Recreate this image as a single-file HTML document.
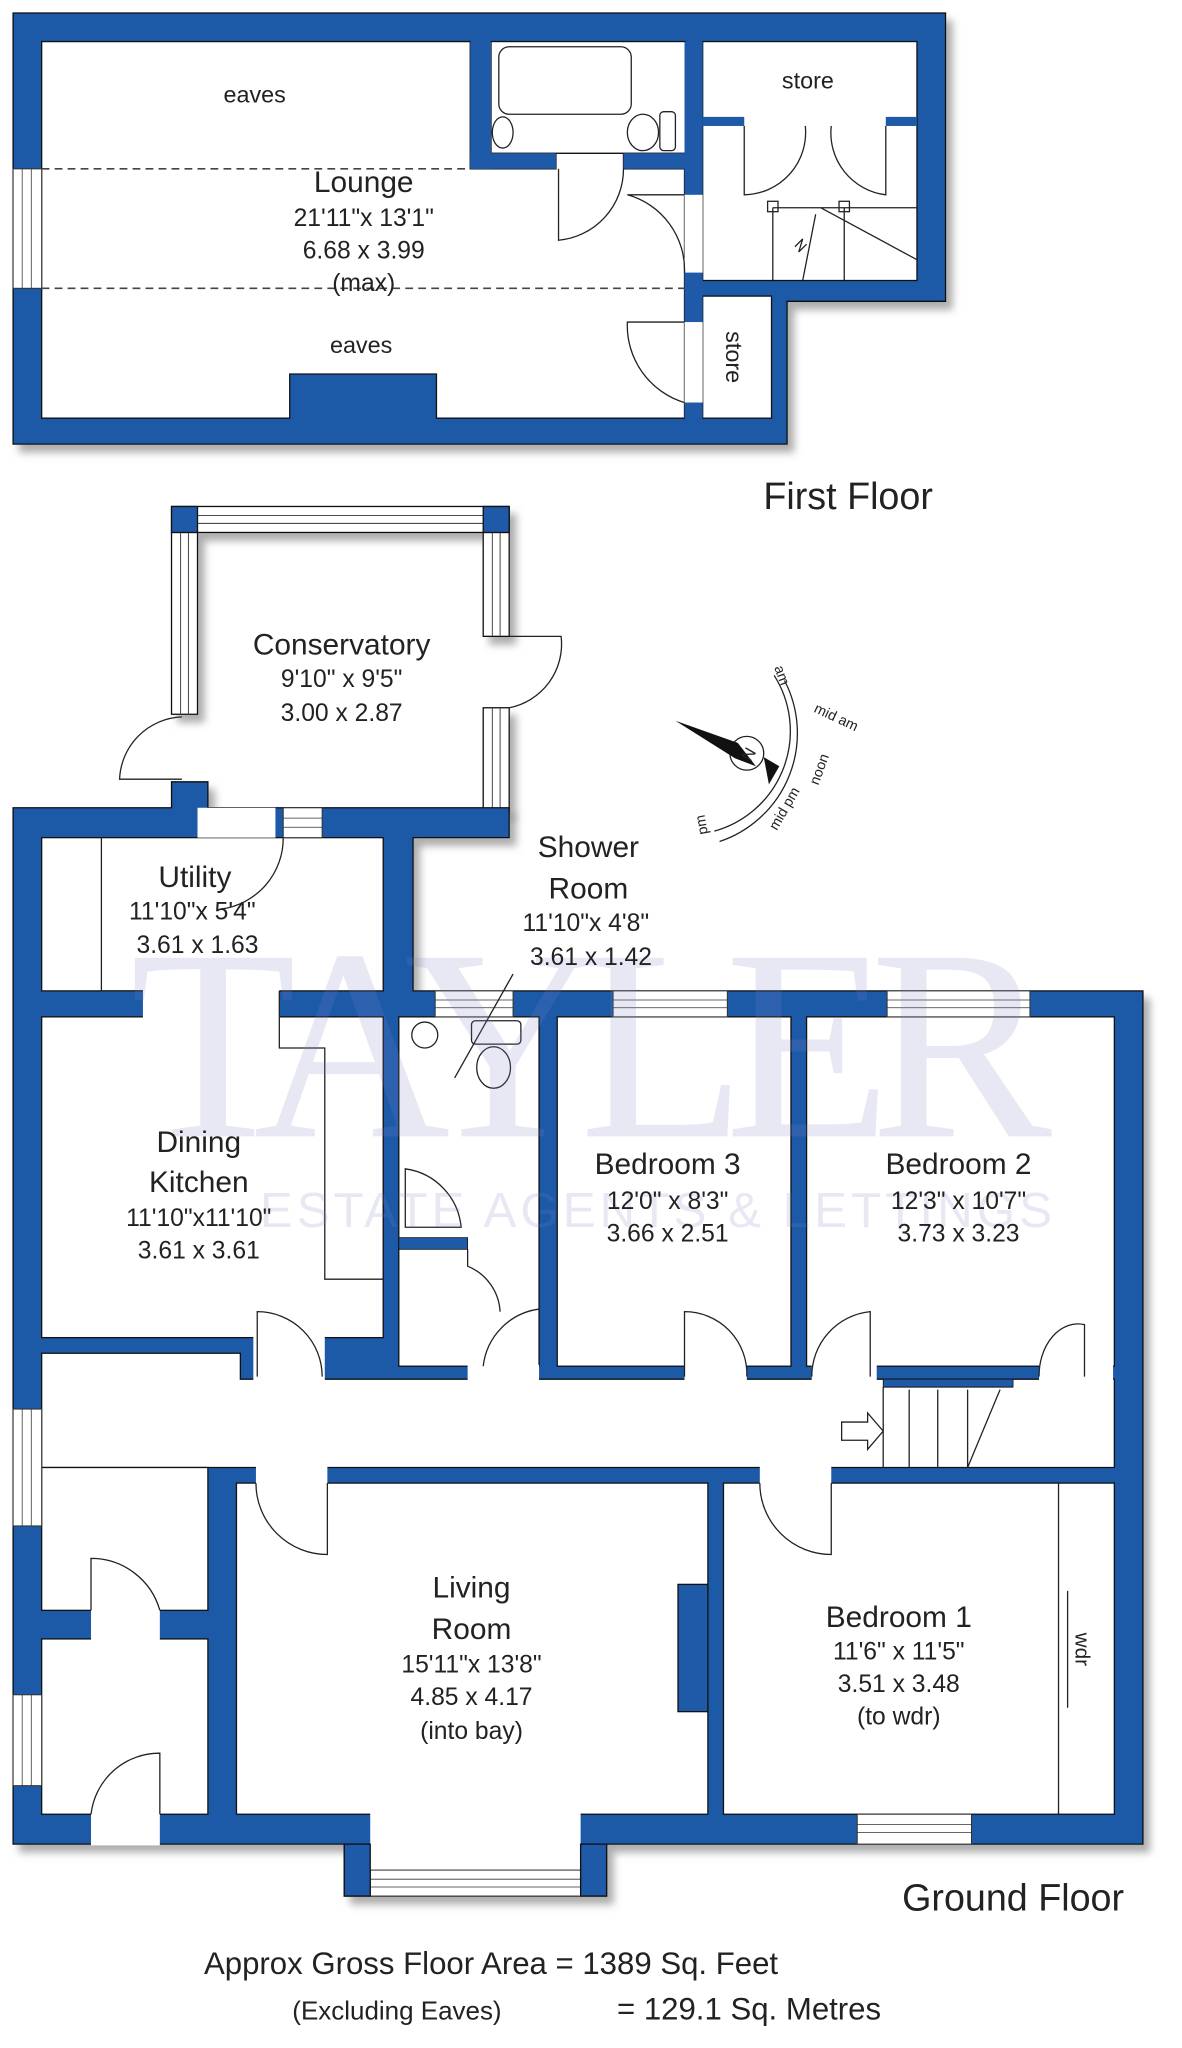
<!DOCTYPE html>
<html><head><meta charset="utf-8"><style>
html,body{margin:0;padding:0;background:#fff;width:1182px;height:2048px;overflow:hidden}
svg{display:block}
text{font-family:"Liberation Sans",sans-serif;fill:#222}
</style></head><body>
<svg width="1182" height="2048" viewBox="0 0 910 1577" xmlns="http://www.w3.org/2000/svg">
<defs>
<filter id="sh" x="-5%" y="-5%" width="115%" height="115%"><feDropShadow dx="5" dy="6" stdDeviation="3" flood-color="#777" flood-opacity="0.6"/></filter>
</defs>

<!-- FIRST FLOOR -->
<g filter="url(#sh)">
<path d="M10 10 H728 V232 H606 V342 H10 Z" fill="#1f5aa8" stroke="#111" stroke-width="1"/>
</g>
<g fill="#fff" stroke="#111" stroke-width="1">
<path d="M32 32 H362 V130 H428 V118 H480 V130 H527 V322 H336 V288 H223 V322 H32 Z"/>
<rect x="378" y="32" width="150" height="86"/>
<rect x="541" y="32" width="165" height="184"/>
<rect x="541" y="228" width="53" height="94"/>
</g>
<rect x="362" y="32" width="16" height="98" fill="#1f5aa8"/>
<rect x="362" y="118" width="66" height="12" fill="#1f5aa8"/>
<rect x="480" y="118" width="48" height="12" fill="#1f5aa8"/>
<rect x="527" y="32" width="14" height="118" fill="#1f5aa8"/>
<rect x="527" y="150" width="14" height="60" fill="#fff"/>
<rect x="527" y="210" width="14" height="38" fill="#1f5aa8"/>
<rect x="527" y="248" width="14" height="62" fill="#fff"/>
<rect x="527" y="310" width="14" height="12" fill="#1f5aa8"/>
<rect x="541" y="90" width="32" height="7" fill="#1f5aa8"/>
<rect x="682" y="90" width="24" height="7" fill="#1f5aa8"/>
<rect x="10" y="130" width="22" height="92" fill="#fff" stroke="#333" stroke-width="0.8"/>
<line x1="17" y1="130" x2="17" y2="222" stroke="#333" stroke-width="0.6"/><line x1="24" y1="130" x2="24" y2="222" stroke="#333" stroke-width="0.6"/>
<g stroke="#444" stroke-width="1.2" stroke-dasharray="6,4">
<line x1="32" y1="130" x2="362" y2="130"/><line x1="32" y1="222" x2="527" y2="222"/>
</g>
<g fill="none" stroke="#222" stroke-width="1">
<rect x="384" y="36" width="102" height="52" rx="8"/>
<ellipse cx="387" cy="102" rx="8" ry="12"/>
<ellipse cx="495" cy="102" rx="12" ry="14"/><rect x="508" y="86" width="12" height="30" rx="3"/>
<path d="M430 130 V185 A55 55 0 0 0 480 130"/>
<path d="M527 150 H483 A60 60 0 0 1 527 210"/>
<path d="M527 248 H483 A62 62 0 0 0 527 310"/>
<path d="M573 97 V150 A48 48 0 0 0 620 97"/><path d="M682 97 V150 A48 48 0 0 1 640 97"/>
<path d="M595 160 H706 M595 160 V216 M650 160 V216 M632 160 L706 200 M628 165 L618 216 M612 190 l6 -6 l-3 10 l6 -6"/>
<rect x="591" y="155" width="8" height="8"/><rect x="646" y="155" width="8" height="8"/>
</g>
<text x="196" y="79" font-size="18" text-anchor="middle">eaves</text>
<text x="280" y="148" font-size="23" text-anchor="middle">Lounge</text>
<text x="280" y="174" font-size="19" text-anchor="middle">21'11"x 13'1"</text>
<text x="280" y="199" font-size="19" text-anchor="middle">6.68  x  3.99</text>
<text x="280" y="224" font-size="19" text-anchor="middle">(max)</text>
<text x="278" y="272" font-size="18" text-anchor="middle">eaves</text>
<text x="622" y="68" font-size="18" text-anchor="middle">store</text>
<text x="559" y="275" font-size="18" text-anchor="middle" transform="rotate(90 559 275)">store</text>
<text x="653" y="392" font-size="29" text-anchor="middle">First Floor</text>

<!-- CONSERVATORY -->
<g filter="url(#sh)">
<rect x="132" y="390" width="260" height="20" fill="#fff" stroke="#111"/>
<rect x="132" y="410" width="20" height="140" fill="#fff" stroke="#111"/>
<rect x="372" y="410" width="20" height="80" fill="#fff" stroke="#111"/>
<rect x="372" y="545" width="20" height="80" fill="#fff" stroke="#111"/>
</g>
<g stroke="#333" stroke-width="0.7">
<line x1="152" y1="397" x2="372" y2="397"/><line x1="152" y1="403" x2="372" y2="403"/>
<line x1="139" y1="410" x2="139" y2="550"/><line x1="145" y1="410" x2="145" y2="550"/>
<line x1="379" y1="410" x2="379" y2="490"/><line x1="385" y1="410" x2="385" y2="490"/>
<line x1="379" y1="545" x2="379" y2="622"/><line x1="385" y1="545" x2="385" y2="622"/>
</g>
<rect x="132" y="390" width="20" height="20" fill="#1f5aa8" stroke="#111"/>
<rect x="372" y="390" width="20" height="20" fill="#1f5aa8" stroke="#111"/>
<g fill="none" stroke="#222" stroke-width="1">
<path d="M392 490 H432 A50 50 0 0 1 392 545"/>
<path d="M140 552 A50 50 0 0 0 92 600 H140"/>
</g>
<text x="263" y="504" font-size="23" text-anchor="middle">Conservatory</text>
<text x="263" y="529" font-size="19" text-anchor="middle">9'10"  x  9'5"</text>
<text x="263" y="555" font-size="19" text-anchor="middle">3.00  x  2.87</text>

<!-- GROUND FLOOR walls -->
<g filter="url(#sh)">
<path d="M10 622 H132 V602 H160 V622 H392 V645 H318 V763 H880 V1420 H467 V1460 H265 V1420 H10 Z" fill="#1f5aa8" stroke="#111"/>
</g>
<g fill="#fff" stroke="#111" stroke-width="1">
<rect x="32" y="645" width="263" height="118"/>
<rect x="32" y="783" width="263" height="247"/>
<rect x="307" y="783" width="108" height="269"/>
<rect x="429" y="783" width="180" height="269"/>
<rect x="621" y="783" width="237" height="269"/>
<path d="M32 1042 H185 V1062 H858 V1130 H32 Z"/>
<rect x="182" y="1142" width="363" height="255"/>
<rect x="557" y="1142" width="301" height="255"/>
<rect x="32" y="1262" width="128" height="135"/>
<rect x="32" y="1130" width="128" height="110"/>
</g>
<rect x="522" y="1220" width="23" height="98" fill="#1f5aa8" stroke="#111"/>
<rect x="307" y="953" width="53" height="9" fill="#1f5aa8" stroke="#111" stroke-width="0.6"/>
<g fill="#fff">
<rect x="110" y="762" width="105" height="22"/>
<rect x="195" y="1029" width="55" height="34"/>
<rect x="360" y="1051" width="55" height="12"/>
<rect x="527" y="1051" width="48" height="12"/>
<rect x="625" y="1051" width="50" height="12"/>
<rect x="800" y="1051" width="57" height="12"/>
<rect x="197" y="1129" width="55" height="14"/>
<rect x="585" y="1129" width="55" height="14"/>
<rect x="70" y="1239" width="53" height="24"/>
<rect x="70" y="1396" width="53" height="25"/>
<rect x="152" y="622" width="60" height="23"/>
<rect x="285" y="1396" width="162" height="45"/>
</g>
<g fill="#fff" stroke="#333" stroke-width="0.8">
<rect x="218" y="622" width="30" height="23"/>
<rect x="335" y="763" width="60" height="20"/>
<rect x="472" y="763" width="88" height="20"/>
<rect x="683" y="763" width="110" height="20"/>
<rect x="10" y="1085" width="22" height="90"/>
<rect x="10" y="1305" width="22" height="70"/>
<rect x="660" y="1397" width="88" height="23"/>
<rect x="285" y="1440" width="162" height="20"/>
</g>
<g stroke="#333" stroke-width="0.6">
<line x1="335" y1="770" x2="395" y2="770"/><line x1="335" y1="776" x2="395" y2="776"/>
<line x1="472" y1="770" x2="560" y2="770"/><line x1="472" y1="776" x2="560" y2="776"/>
<line x1="683" y1="770" x2="793" y2="770"/><line x1="683" y1="776" x2="793" y2="776"/>
<line x1="17" y1="1085" x2="17" y2="1175"/><line x1="24" y1="1085" x2="24" y2="1175"/>
<line x1="17" y1="1305" x2="17" y2="1375"/><line x1="24" y1="1305" x2="24" y2="1375"/>
<line x1="660" y1="1405" x2="748" y2="1405"/><line x1="660" y1="1411" x2="748" y2="1411"/>
<line x1="285" y1="1447" x2="447" y2="1447"/><line x1="285" y1="1453" x2="447" y2="1453"/>
<line x1="218" y1="630" x2="248" y2="630"/><line x1="218" y1="637" x2="248" y2="637"/>
</g>
<rect x="265" y="1420" width="20" height="40" fill="#1f5aa8" stroke="#111"/>
<rect x="447" y="1420" width="20" height="40" fill="#1f5aa8" stroke="#111"/>
<g fill="none" stroke="#222" stroke-width="1">
<path d="M78 645 V763 H110 M215 763 V807 H250 V985 H295"/>
<path d="M218 645 A55 55 0 0 1 170 700"/>
<path d="M198 1060 V1010 A50 50 0 0 1 248 1060"/>
<path d="M360 962 V975 A40 40 0 0 1 385 1010"/>
<path d="M415 1008 A50 50 0 0 0 372 1052"/>
<path d="M312 900 A50 50 0 0 1 355 945 H312 Z"/>
<ellipse cx="327" cy="797" rx="10" ry="10"/>
<rect x="363" y="786" width="38" height="18" rx="3"/><ellipse cx="380" cy="822" rx="13" ry="16"/>
<line x1="350" y1="830" x2="395" y2="750"/>
<path d="M527 1060 V1010 A48 48 0 0 1 575 1060"/>
<path d="M625 1060 A50 50 0 0 1 670 1010 V1060"/>
<path d="M800 1060 A30 40 0 0 1 835 1020 V1060"/>
<path d="M680 1068 H780 M680 1068 V1130 M700 1070 V1130 M722 1070 V1130 M745 1070 V1130 M770 1070 L745 1130"/>
<path d="M648 1095 H668 V1088 L680 1102 L668 1116 V1109 H648 Z"/>
<path d="M197 1142 A55 55 0 0 0 252 1197 V1142"/>
<path d="M585 1142 A55 55 0 0 0 640 1197 V1142"/>
<path d="M70 1240 V1200 A55 55 0 0 1 123 1240"/>
<path d="M70 1397 A53 53 0 0 1 123 1350 V1397"/>
<path d="M815 1142 V1397 M822 1225 V1315"/>
</g>
<rect x="680" y="1062" width="100" height="6" fill="#1f5aa8" stroke="#111" stroke-width="0.6"/>

<g fill="none" stroke="#222" stroke-width="1">
<path d="M596 520 A80 80 0 0 1 550 640"/>
<path d="M604 524 A88 88 0 0 1 554 648"/>
<circle cx="575" cy="580" r="13"/>
</g>
<path d="M520 555 L568 572 L582 590 L566 584 Z" fill="#111"/>
<path d="M588 583 L600 590 L592 604 Z" fill="#111"/>
<text x="575" y="586" font-size="13" text-anchor="middle" transform="rotate(-60 575 580)">N</text>
<g font-size="11">
<text x="596" y="514" transform="rotate(70 596 514)">am</text>
<text x="626" y="548" transform="rotate(25 626 548)">mid am</text>
<text x="630" y="605" transform="rotate(-70 630 605)">noon</text>
<text x="598" y="640" transform="rotate(-60 598 640)">mid pm</text>
<text x="545" y="642" transform="rotate(-100 545 642)">pm</text>
</g>

<g opacity="0.18">
<text x="100" y="875" font-size="210" textLength="710" lengthAdjust="spacing" style="fill:#7d84c4;font-family:'Liberation Serif',serif">TAYLER</text>
<text x="200" y="945" font-size="38" textLength="610" lengthAdjust="spacing" style="fill:#7d84c4">ESTATE AGENTS &amp; LETTINGS</text>
</g>

<text x="150" y="683" font-size="23" text-anchor="middle">Utility</text>
<text x="148" y="708" font-size="19" text-anchor="middle">11'10"x  5'4"</text>
<text x="152" y="734" font-size="19" text-anchor="middle">3.61  x  1.63</text>
<text x="453" y="660" font-size="23" text-anchor="middle">Shower</text>
<text x="453" y="692" font-size="23" text-anchor="middle">Room</text>
<text x="451" y="717" font-size="19" text-anchor="middle">11'10"x  4'8"</text>
<text x="455" y="743" font-size="19" text-anchor="middle">3.61  x  1.42</text>
<text x="153" y="887" font-size="23" text-anchor="middle">Dining</text>
<text x="153" y="918" font-size="23" text-anchor="middle">Kitchen</text>
<text x="153" y="944" font-size="19" text-anchor="middle">11'10"x11'10"</text>
<text x="153" y="969" font-size="19" text-anchor="middle">3.61  x  3.61</text>
<text x="514" y="904" font-size="23" text-anchor="middle">Bedroom 3</text>
<text x="514" y="931" font-size="19" text-anchor="middle">12'0"  x  8'3"</text>
<text x="514" y="956" font-size="19" text-anchor="middle">3.66  x  2.51</text>
<text x="738" y="904" font-size="23" text-anchor="middle">Bedroom 2</text>
<text x="738" y="931" font-size="19" text-anchor="middle">12'3" x 10'7"</text>
<text x="738" y="956" font-size="19" text-anchor="middle">3.73  x  3.23</text>
<text x="363" y="1230" font-size="23" text-anchor="middle">Living</text>
<text x="363" y="1262" font-size="23" text-anchor="middle">Room</text>
<text x="363" y="1288" font-size="19" text-anchor="middle">15'11"x 13'8"</text>
<text x="363" y="1313" font-size="19" text-anchor="middle">4.85  x  4.17</text>
<text x="363" y="1339" font-size="19" text-anchor="middle">(into bay)</text>
<text x="692" y="1253" font-size="23" text-anchor="middle">Bedroom 1</text>
<text x="692" y="1278" font-size="19" text-anchor="middle">11'6"  x  11'5"</text>
<text x="692" y="1303" font-size="19" text-anchor="middle">3.51  x  3.48</text>
<text x="692" y="1328" font-size="19" text-anchor="middle">(to wdr)</text>
<text x="828" y="1270" font-size="16" text-anchor="middle" transform="rotate(90 828 1270)">wdr</text>
<text x="780" y="1471" font-size="29" text-anchor="middle">Ground Floor</text>
<text x="157" y="1520" font-size="24">Approx Gross Floor Area  =  1389  Sq. Feet</text>
<text x="225" y="1555" font-size="20">(Excluding Eaves)</text>
<text x="475" y="1555" font-size="24">=  129.1  Sq. Metres</text>
</svg>
</body></html>
